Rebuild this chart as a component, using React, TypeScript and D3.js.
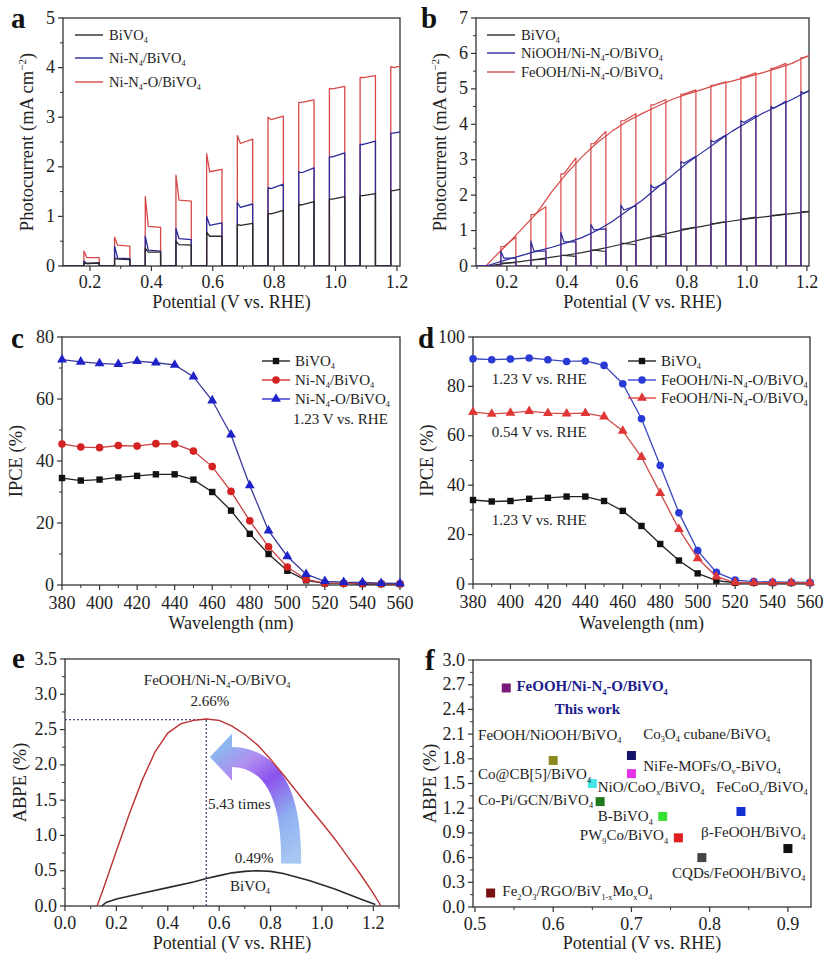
import React from 'react';
import * as d3 from 'd3';

const FONT = "'Liberation Serif','Times New Roman',Times,serif";
const INK = '#222';

// ---------- Panel a : chopped LSV ----------
const aPulseOn = [0.18, 0.28, 0.38, 0.48, 0.58, 0.68, 0.78, 0.88, 0.98, 1.08, 1.18];
const aPulseWidth = 0.05;
const aBiSpike = [0.06, 0.16, 0.36, 0.5, 0.68, 0.84, 1.06, 1.24, 1.35, 1.42, 1.52];
const aBiStart = [0.05, 0.14, 0.28, 0.43, 0.6, 0.82, 1.05, 1.23, 1.35, 1.42, 1.52];
const aBiEnd = [0.06, 0.13, 0.28, 0.42, 0.6, 0.86, 1.12, 1.3, 1.4, 1.46, 1.57];
const aNiSpike = [0.1, 0.4, 0.6, 0.76, 1.0, 1.28, 1.58, 1.9, 2.2, 2.45, 2.68];
const aNiStart = [0.05, 0.16, 0.32, 0.55, 0.82, 1.18, 1.56, 1.88, 2.2, 2.45, 2.68];
const aNiEnd = [0.06, 0.15, 0.3, 0.53, 0.87, 1.25, 1.65, 1.98, 2.28, 2.52, 2.73];
const aNiOSpike = [0.3, 0.58, 1.4, 1.83, 2.26, 2.63, 3.0, 3.3, 3.58, 3.8, 4.02];
const aNiOStart = [0.17, 0.42, 0.8, 1.33, 1.9, 2.47, 2.95, 3.3, 3.57, 3.8, 4.0];
const aNiOEnd = [0.17, 0.4, 0.78, 1.31, 1.95, 2.56, 3.02, 3.35, 3.62, 3.84, 4.06];
const aLegend = ['BiVO_{4}', 'Ni-N_{4}/BiVO_{4}', 'Ni-N_{4}-O/BiVO_{4}'];

// ---------- Panel b : LSV + chopped ----------
const bX = [0.1, 0.13, 0.15, 0.2, 0.25, 0.3, 0.35, 0.4, 0.45, 0.5, 0.55, 0.6, 0.65, 0.7, 0.75, 0.8, 0.85, 0.9, 0.95, 1.0, 1.05, 1.1, 1.15, 1.2, 1.23];
const bBi = [0, 0, 0.02, 0.08, 0.13, 0.19, 0.25, 0.31, 0.38, 0.46, 0.55, 0.65, 0.75, 0.85, 0.95, 1.04, 1.12, 1.2, 1.27, 1.33, 1.38, 1.43, 1.48, 1.53, 1.56];
const bNi = [0, 0, 0.05, 0.18, 0.3, 0.42, 0.53, 0.66, 0.8, 1.0, 1.25, 1.55, 1.85, 2.2, 2.55, 2.9, 3.2, 3.5, 3.8, 4.05, 4.3, 4.5, 4.7, 4.92, 5.02];
const bFe = [0, 0, 0.18, 0.6, 1.05, 1.5, 2.1, 2.62, 3.08, 3.47, 3.8, 4.08, 4.3, 4.5, 4.7, 4.85, 4.98, 5.12, 5.22, 5.33, 5.45, 5.58, 5.72, 5.92, 6.0];
const bPulseOn = [0.18, 0.28, 0.38, 0.48, 0.58, 0.68, 0.78, 0.88, 0.98, 1.08, 1.18];
const bBiStart = [0.08, 0.17, 0.3, 0.45, 0.64, 0.84, 1.04, 1.2, 1.33, 1.43, 1.53];
const bBiEnd = [0.1, 0.2, 0.27, 0.41, 0.6, 0.82, 1.1, 1.25, 1.38, 1.47, 1.56];
const bNiSpike = [0.42, 0.7, 0.95, 1.17, 1.72, 2.28, 2.95, 3.55, 4.1, 4.5, 4.92];
const bNiStart = [0.22, 0.42, 0.68, 1.02, 1.58, 2.2, 2.9, 3.5, 4.05, 4.45, 4.88];
const bNiEnd = [0.22, 0.42, 0.68, 1.05, 1.7, 2.35, 3.1, 3.7, 4.25, 4.65, 5.02];
const bFeStart = [0.55, 1.45, 2.6, 3.45, 4.1, 4.55, 4.85, 5.1, 5.33, 5.58, 5.88];
const bFeEnd = [0.82, 1.67, 3.05, 3.8, 4.3, 4.7, 4.97, 5.2, 5.45, 5.72, 6.0];
const bLegend = ['BiVO_{4}', 'NiOOH/Ni-N_{4}-O/BiVO_{4}', 'FeOOH/Ni-N_{4}-O/BiVO_{4}'];

// ---------- Panel c / d : IPCE ----------
const wl = [380, 390, 400, 410, 420, 430, 440, 450, 460, 470, 480, 490, 500, 510, 520, 530, 540, 550, 560];
const cBi = [34.5, 33.7, 34, 34.7, 35.2, 35.7, 35.7, 34, 30, 24, 16.5, 10, 4.6, 1.5, 0.5, 0.5, 0.3, 0.3, 0.3];
const cNi = [45.5, 44.5, 44.3, 45, 44.8, 45.6, 45.5, 43.2, 38.2, 30.2, 20.7, 12.3, 5.8, 1.8, 0.6, 0.5, 0.5, 0.4, 0.4];
const cNiO = [72.7, 72, 71.5, 71.2, 72.2, 71.7, 71, 67.2, 59.5, 48.5, 32.1, 17.5, 9.2, 3.5, 1.2, 0.9, 0.8, 0.6, 0.5];
const cLegend = ['BiVO_{4}', 'Ni-N_{4}/BiVO_{4}', 'Ni-N_{4}-O/BiVO_{4}'];
const dBi = [34, 33.4, 33.6, 34.5, 34.9, 35.4, 35.4, 33.6, 29.6, 23.5, 16.2, 9.5, 4.3, 1.4, 0.5, 0.5, 0.4, 0.4, 0.4];
const dFe123 = [91.2, 90.8, 91.1, 91.5, 90.8, 90.1, 90.3, 88.5, 81.1, 66.9, 48, 28.8, 13.5, 4.7, 1.6, 1.0, 0.8, 0.7, 0.6];
const dFe054 = [69.6, 68.9, 69.3, 70, 69.2, 69, 69.2, 67.8, 62, 51.4, 36.8, 22.2, 10.4, 3, 0.6, 0.5, 0.5, 0.5, 0.5];
const dLegend = ['BiVO_{4}', 'FeOOH/Ni-N_{4}-O/BiVO_{4}', 'FeOOH/Ni-N_{4}-O/BiVO_{4}'];
const dNotes = ['1.23 V vs. RHE', '0.54 V vs. RHE', '1.23 V vs. RHE'];
const dNoteX = [390, 390, 390];
const dNoteY = [81, 59.5, 24];

// ---------- Panel e : ABPE ----------
const eFeX = [0.125, 0.15, 0.2, 0.25, 0.3, 0.35, 0.4, 0.45, 0.5, 0.55, 0.6, 0.65, 0.7, 0.75, 0.8, 0.85, 0.9, 0.95, 1.0, 1.05, 1.1, 1.15, 1.2, 1.23];
const eFeY = [0, 0.25, 0.78, 1.3, 1.78, 2.18, 2.45, 2.58, 2.63, 2.65, 2.63, 2.55, 2.43, 2.28, 2.08, 1.86, 1.63, 1.4, 1.18, 0.95, 0.7, 0.45, 0.18, 0];
const eBiX = [0.143, 0.16, 0.2, 0.3, 0.4, 0.5, 0.55, 0.6, 0.65, 0.7, 0.75, 0.8, 0.85, 0.9, 0.95, 1.0, 1.05, 1.1, 1.15, 1.208];
const eBiY = [0, 0.05, 0.1, 0.18, 0.26, 0.34, 0.39, 0.43, 0.47, 0.49, 0.5, 0.49, 0.46, 0.41, 0.36, 0.3, 0.24, 0.17, 0.1, 0.02];
const ePeak = [0.55, 2.64];
const eNotes = ['FeOOH/Ni-N_{4}-O/BiVO_{4}', '2.66%', '5.43 times', '0.49%', 'BiVO_{4}'];
const eNoteX = [0.592, 0.564, 0.557, 0.736, 0.72];
const eNoteY = [3.13, 2.83, 1.37, 0.61, 0.21];
const eNoteAnchor = ['middle', 'middle', 'start', 'middle', 'middle'];

// ---------- Panel f : comparison ----------
const fX = [0.54, 0.60, 0.70, 0.70, 0.65, 0.66, 0.74, 0.76, 0.84, 0.90, 0.79, 0.52];
const fY = [2.66, 1.78, 1.84, 1.62, 1.50, 1.28, 1.10, 0.84, 1.16, 0.71, 0.60, 0.17];
const fColor = ['#7a1a7a', '#8a8a22', '#14146e', '#e632e6', '#44e6e6', '#1e7a1e', '#36e036', '#e02020', '#1232d2', '#111111', '#444444', '#7a1212'];
const fLabel = ['FeOOH/Ni-N_{4}-O/BiVO_{4}', 'This work', 'FeOOH/NiOOH/BiVO_{4}', 'Co_{3}O_{4} cubane/BiVO_{4}', 'NiFe-MOFs/O_{v}-BiVO_{4}', 'Co@CB[5]/BiVO_{4}', 'NiO/CoO_{x}/BiVO_{4}', 'FeCoO_{x}/BiVO_{4}', 'Co-Pi/GCN/BiVO_{4}', 'B-BiVO_{4}', 'PW_{9}Co/BiVO_{4}', 'β-FeOOH/BiVO_{4}', 'CQDs/FeOOH/BiVO_{4}', 'Fe_{2}O_{3}/RGO/BiV_{1-x}Mo_{x}O_{4}'];
const fLabelX = [0.553, 0.602, 0.504, 0.715, 0.715, 0.504, 0.657, 0.808, 0.504, 0.657, 0.634, 0.789, 0.752, 0.535];
const fLabelY = [2.62, 2.35, 2.03, 2.04, 1.65, 1.55, 1.40, 1.40, 1.24, 1.04, 0.81, 0.85, 0.35, 0.13];
const fLabelBold = [true, true, false, false, false, false, false, false, false, false, false, false, false, false];

// ---------- helpers ----------
function Rich({ s, fs, sub = 0.55 }: { s: string; fs: number; sub?: number }) {
  const parts: { t: string; k: string }[] = [];
  const re = /([_^])\{([^}]*)\}/g;
  let last = 0;
  let m: RegExpExecArray | null;
  while ((m = re.exec(s))) {
    if (m.index > last) parts.push({ t: s.slice(last, m.index), k: 'n' });
    parts.push({ t: m[2], k: m[1] });
    last = re.lastIndex;
  }
  if (last < s.length) parts.push({ t: s.slice(last), k: 'n' });
  let shift = 0;
  return (
    <>
      {parts.map((p, i) => {
        const target = p.k === '_' ? 0.22 * fs : p.k === '^' ? -0.38 * fs : 0;
        const dy = target - shift;
        shift = target;
        return (
          <tspan key={i} dy={dy === 0 ? undefined : dy} fontSize={p.k === 'n' ? undefined : fs * sub}>
            {p.t}
          </tspan>
        );
      })}
    </>
  );
}

type Sc = d3.ScaleLinear<number, number>;

function chopped(on: number[], w: number, spike: number[], start: number[], end: number[], x0: number, x1: number) {
  const pts: [number, number][] = [[x0, 0]];
  on.forEach((t, i) => {
    pts.push([t, 0], [t, spike[i]], [t + 0.01, start[i]], [t + w, end[i]], [t + w, 0]);
  });
  pts.push([x1, 0]);
  return pts;
}

interface PanelProps {
  id: string;
  L: number; R: number; T: number; B: number;
  xd: [number, number]; yd: [number, number];
  xt: number[]; xm: number[]; yt: number[]; ym: number[];
  xf: (v: number) => string; yf: (v: number) => string;
  xTitle: string; yTitle: string; xTitleY: number; yTitleX: number;
  letter: string; letterX: number; letterY: number;
  clip?: boolean;
  tickDy?: number;
  children: (x: Sc, y: Sc) => React.ReactNode;
}

function Panel(p: PanelProps) {
  const x = d3.scaleLinear().domain(p.xd).range([p.L, p.R]);
  const y = d3.scaleLinear().domain(p.yd).range([p.B, p.T]);
  const inX = (v: number) => v >= p.xd[0] - 1e-9 && v <= p.xd[1] + 1e-9;
  const inY = (v: number) => v >= p.yd[0] - 1e-9 && v <= p.yd[1] + 1e-9;
  const tdy = p.tickDy ?? 22;
  return (
    <g>
      <defs>
        <clipPath id={p.id}>
          <rect x={p.L} y={p.T} width={p.R - p.L} height={p.B - p.T} />
        </clipPath>
      </defs>
      <rect x={p.L} y={p.T} width={p.R - p.L} height={p.B - p.T} fill="none" stroke="#333" strokeWidth={1.3} />
      {p.xt.filter(inX).map((v) => (
        <g key={'xt' + v}>
          <line x1={x(v)} x2={x(v)} y1={p.B} y2={p.B + 5} stroke="#333" strokeWidth={1.2} />
          <text x={x(v)} y={p.B + tdy} textAnchor="middle" fontSize={18} fill={INK}>{p.xf(v)}</text>
        </g>
      ))}
      {p.xm.filter(inX).map((v) => (
        <line key={'xm' + v} x1={x(v)} x2={x(v)} y1={p.B} y2={p.B + 3} stroke="#333" strokeWidth={1} />
      ))}
      {p.yt.filter(inY).map((v) => (
        <g key={'yt' + v}>
          <line x1={p.L - 5} x2={p.L} y1={y(v)} y2={y(v)} stroke="#333" strokeWidth={1.2} />
          <text x={p.L - 8} y={y(v) + 5.5} textAnchor="end" fontSize={18} fill={INK}>{p.yf(v)}</text>
        </g>
      ))}
      {p.ym.filter(inY).map((v) => (
        <line key={'ym' + v} x1={p.L - 3} x2={p.L} y1={y(v)} y2={y(v)} stroke="#333" strokeWidth={1} />
      ))}
      <text x={(p.L + p.R) / 2} y={p.xTitleY} textAnchor="middle" fontSize={18} fill={INK}>
        <Rich s={p.xTitle} fs={18} />
      </text>
      <text transform={`translate(${p.yTitleX},${(p.T + p.B) / 2}) rotate(-90)`} textAnchor="middle" fontSize={18.5} fill={INK}>
        <Rich s={p.yTitle} fs={18.5} sub={0.6} />
      </text>
      <text x={p.letterX} y={p.letterY} fontSize={29} fontWeight="bold" fill="#111">{p.letter}</text>
      <g clipPath={p.clip ? `url(#${p.id})` : undefined}>{p.children(x, y)}</g>
    </g>
  );
}

const range = (a: number, b: number, s: number) => d3.range(Math.round(a / s), Math.round(b / s) + 1).map((k) => +(k * s).toFixed(6));
const minorOf = (a: number, b: number, s: number, major: number[]) =>
  range(a, b, s).filter((v) => !major.some((m) => Math.abs(m - v) < 1e-6));

const f1 = d3.format('.1f');
const f0 = d3.format('d');

const BLK = '#2a2a2a';
const BLU = '#2b2b9c';
const RED = '#d84848';

function Legend({ x, ys, items, colors, fs = 15 }: { x: number; ys: number[]; items: string[]; colors: string[]; fs?: number }) {
  return (
    <g>
      {items.map((t, i) => (
        <g key={i}>
          <line x1={x} x2={x + 28} y1={ys[i]} y2={ys[i]} stroke={colors[i]} strokeWidth={1.4} />
          <text x={x + 34} y={ys[i] + 5} fontSize={fs} fill={INK}>
            <Rich s={t} fs={fs} />
          </text>
        </g>
      ))}
    </g>
  );
}

type Mk = 'square' | 'circle' | 'triangle';
function Marker({ type, cx, cy, color }: { type: Mk; cx: number; cy: number; color: string }) {
  if (type === 'square') return <rect x={cx - 3.2} y={cy - 3.2} width={6.4} height={6.4} fill={color} />;
  if (type === 'circle') return <circle cx={cx} cy={cy} r={3.8} fill={color} />;
  const d = d3.symbol().type(d3.symbolTriangle).size(42)() as string;
  return <path d={d} transform={`translate(${cx},${cy})`} fill={color} />;
}

function MarkerLegend({ x, ys, items, colors, marks }: { x: number; ys: number[]; items: string[]; colors: string[]; marks: Mk[] }) {
  return (
    <g>
      {items.map((t, i) => (
        <g key={i}>
          <line x1={x} x2={x + 28} y1={ys[i]} y2={ys[i]} stroke={colors[i]} strokeWidth={1.3} />
          <Marker type={marks[i]} cx={x + 14} cy={ys[i]} color={colors[i]} />
          <text x={x + 33} y={ys[i] + 5} fontSize={15} fill={INK}>
            <Rich s={t} fs={15} />
          </text>
        </g>
      ))}
    </g>
  );
}

function Series({ x, y, xs, ys, color, lineColor, mark }: { x: Sc; y: Sc; xs: number[]; ys: number[]; color: string; lineColor: string; mark: Mk }) {
  const line = d3.line<number>().x((_, i) => x(xs[i])).y((v) => y(v));
  return (
    <g>
      <path d={line(ys) as string} fill="none" stroke={lineColor} strokeWidth={1.3} />
      {ys.map((v, i) => (
        <Marker key={i} type={mark} cx={x(xs[i])} cy={y(v)} color={color} />
      ))}
    </g>
  );
}

export default function App() {
  const lineXY = (x: Sc, y: Sc) => d3.line<[number, number]>().x((d) => x(d[0])).y((d) => y(d[1]));

  const aXt = range(0.2, 1.2, 0.2);
  const aYt = range(0, 5, 1);
  const bYt = range(0, 7, 1);
  const cXt = range(380, 560, 20);
  const cYt = range(0, 80, 20);
  const dYt = range(0, 100, 20);
  const eXt = range(0, 1.2, 0.2);
  const eYt = range(0, 3.5, 0.5);
  const fXt = range(0.5, 0.9, 0.1);
  const fYt = range(0, 3, 0.3);

  return (
    <svg width={827} height={960} style={{ position: 'absolute', left: 0, top: 0, background: '#fff' }} fontFamily={FONT}>
      <rect x={0} y={0} width={827} height={960} fill="#fff" />

      {/* Panel a */}
      <Panel id="clipA" L={63} R={400} T={18} B={266} xd={[0.112, 1.21]} yd={[0, 5]}
        xt={aXt} xm={minorOf(0.1, 1.2, 0.1, aXt)} yt={aYt} ym={minorOf(0, 5, 0.5, aYt)}
        xf={f1} yf={f0} xTitle="Potential (V vs. RHE)" yTitle="Photocurrent (mA cm^{−2})"
        xTitleY={308} yTitleX={33} letter="a" letterX={11} letterY={28} clip>
        {(x, y) => {
          const L = lineXY(x, y);
          return (
            <g fill="none" strokeWidth={1.3} strokeLinejoin="round">
              <path d={L(chopped(aPulseOn, aPulseWidth, aNiOSpike, aNiOStart, aNiOEnd, 0.1, 1.25)) as string} stroke={RED} />
              <path d={L(chopped(aPulseOn, aPulseWidth, aNiSpike, aNiStart, aNiEnd, 0.1, 1.25)) as string} stroke={BLU} />
              <path d={L(chopped(aPulseOn, aPulseWidth, aBiSpike, aBiStart, aBiEnd, 0.1, 1.25)) as string} stroke={BLK} />
            </g>
          );
        }}
      </Panel>
      <Legend x={75} ys={[35, 58, 82]} items={aLegend} colors={[BLK, BLU, RED]} fs={14.5} />

      {/* Panel b */}
      <Panel id="clipB" L={476} R={809} T={18} B={266} xd={[0.097, 1.207]} yd={[0, 7]}
        xt={aXt} xm={minorOf(0.1, 1.2, 0.1, aXt)} yt={bYt} ym={minorOf(0, 7, 0.5, bYt)}
        xf={f1} yf={f0} xTitle="Potential (V vs. RHE)" yTitle="Photocurrent (mA cm^{−2})"
        xTitleY={308} yTitleX={446} letter="b" letterX={421} letterY={28} clip>
        {(x, y) => {
          const L = lineXY(x, y);
          const env = (vals: number[]) => L(bX.map((v, i) => [v, vals[i]] as [number, number])) as string;
          return (
            <g fill="none" strokeWidth={1.2} strokeLinejoin="round">
              <path d={L(chopped(bPulseOn, 0.05, bBiStart, bBiStart, bBiEnd, 0.1, 1.25)) as string} stroke={BLK} />
              <path d={env(bBi)} stroke={BLK} />
              <path d={L(chopped(bPulseOn, 0.05, bFeStart, bFeStart, bFeEnd, 0.1, 1.25)) as string} stroke={RED} />
              <path d={env(bFe)} stroke={RED} />
              <path d={L(chopped(bPulseOn, 0.05, bNiSpike, bNiStart, bNiEnd, 0.1, 1.25)) as string} stroke={BLU} />
              <path d={env(bNi)} stroke={BLU} />
            </g>
          );
        }}
      </Panel>
      <Legend x={487} ys={[35, 53, 72]} items={bLegend} colors={[BLK, BLU, RED]} fs={14.5} />

      {/* Panel c */}
      <Panel id="clipC" L={62} R={400} T={337} B={585} xd={[380, 560]} yd={[0, 80]}
        xt={cXt} xm={minorOf(380, 560, 10, cXt)} yt={cYt} ym={minorOf(0, 80, 10, cYt)}
        xf={f0} yf={f0} xTitle="Wavelength (nm)" yTitle="IPCE (%)" tickDy={23.5}
        xTitleY={629} yTitleX={22} letter="c" letterX={11} letterY={348}>
        {(x, y) => (
          <g>
            <Series x={x} y={y} xs={wl} ys={cBi} color="#111" lineColor="#222" mark="square" />
            <Series x={x} y={y} xs={wl} ys={cNi} color="#d42222" lineColor="#c84040" mark="circle" />
            <Series x={x} y={y} xs={wl} ys={cNiO} color="#1f22c8" lineColor="#3a3a9a" mark="triangle" />
            <text x={x(503)} y={y(51.9)} fontSize={15} fill={INK}>1.23 V vs. RHE</text>
          </g>
        )}
      </Panel>
      <MarkerLegend x={262} ys={[361, 380, 399]} items={cLegend} colors={['#111', '#d42222', '#1f22c8']} marks={['square', 'circle', 'triangle']} />

      {/* Panel d */}
      <Panel id="clipD" L={473} R={810} T={337} B={584} xd={[380, 560]} yd={[0, 100]}
        xt={cXt} xm={minorOf(380, 560, 10, cXt)} yt={dYt} ym={minorOf(0, 100, 10, dYt)}
        xf={f0} yf={f0} xTitle="Wavelength (nm)" yTitle="IPCE (%)" tickDy={24}
        xTitleY={629} yTitleX={433} letter="d" letterX={418} letterY={348}>
        {(x, y) => (
          <g>
            <Series x={x} y={y} xs={wl} ys={dBi} color="#111" lineColor="#222" mark="square" />
            <Series x={x} y={y} xs={wl} ys={dFe123} color="#2a3ad6" lineColor="#3a48c0" mark="circle" />
            <Series x={x} y={y} xs={wl} ys={dFe054} color="#e03636" lineColor="#d04a4a" mark="triangle" />
            {dNotes.map((t, i) => (
              <text key={i} x={x(dNoteX[i])} y={y(dNoteY[i])} fontSize={15} fill={INK}>{t}</text>
            ))}
          </g>
        )}
      </Panel>
      <MarkerLegend x={628} ys={[361, 380, 398]} items={dLegend} colors={['#111', '#2a3ad6', '#e03636']} marks={['square', 'circle', 'triangle']} />

      {/* Panel e */}
      <Panel id="clipE" L={65} R={399} T={659} B={906} xd={[0, 1.3]} yd={[0, 3.5]}
        xt={eXt} xm={minorOf(0, 1.3, 0.1, eXt)} yt={eYt} ym={minorOf(0, 3.5, 0.25, eYt)}
        xf={f1} yf={f1} xTitle="Potential (V vs. RHE)" yTitle="ABPE (%)" tickDy={23}
        xTitleY={949} yTitleX={26} letter="e" letterX={12} letterY={668}>
        {(x, y) => {
          const lineFe = d3.line<number>().x((_, i) => x(eFeX[i])).y((v) => y(v));
          const lineBi = d3.line<number>().x((_, i) => x(eBiX[i])).y((v) => y(v));
          const tip = [x(0.564), y(2.11)];
          const c1 = [x(0.65), y(2.44)];
          const c2 = [x(0.65), y(1.78)];
          const base = [x(0.646), y(2.11)];
          const ctrl = [x(0.885), y(2.1)];
          const tail = [x(0.88), y(0.6)];
          return (
            <g>
              <defs>
                <linearGradient id="arrowGrad" gradientUnits="userSpaceOnUse" x1={tail[0]} y1={tail[1]} x2={tip[0]} y2={tip[1]}>
                  <stop offset="0" stopColor="#a9c8f4" />
                  <stop offset="0.3" stopColor="#8fb0f0" />
                  <stop offset="0.6" stopColor="#8c52ec" />
                  <stop offset="0.8" stopColor="#b08ef0" />
                  <stop offset="1" stopColor="#8db6ee" />
                </linearGradient>
              </defs>
              <path d={`M${base[0]},${base[1]} Q${ctrl[0]},${ctrl[1]} ${tail[0]},${tail[1]}`} fill="none" stroke="url(#arrowGrad)" strokeWidth={20} />
              <path d={`M${tip[0]},${tip[1]} L${c1[0]},${c1[1]} L${c2[0]},${c2[1]} Z`} fill="url(#arrowGrad)" />
              <line x1={x(0)} x2={x(ePeak[0])} y1={y(ePeak[1])} y2={y(ePeak[1])} stroke="#4a4a80" strokeWidth={1.3} strokeDasharray="2 2" />
              <line x1={x(ePeak[0])} x2={x(ePeak[0])} y1={y(0)} y2={y(ePeak[1])} stroke="#4a4a80" strokeWidth={1.3} strokeDasharray="2 2" />
              <path d={lineFe(eFeY) as string} fill="none" stroke="#d63c3c" strokeWidth={1.4} />
              <path d={lineFe(eFeY) as string} fill="none" stroke="#5a2020" strokeWidth={0.5} opacity={0.6} />
              <path d={lineBi(eBiY) as string} fill="none" stroke="#2a2a2a" strokeWidth={1.6} />
              {eNotes.map((t, i) => (
                <text key={i} x={x(eNoteX[i])} y={y(eNoteY[i])} fontSize={15} fill={INK} textAnchor={eNoteAnchor[i] as any}>
                  <Rich s={t} fs={15} />
                </text>
              ))}
            </g>
          );
        }}
      </Panel>

      {/* Panel f */}
      <Panel id="clipF" L={473} R={811} T={660} B={907} xd={[0.4975, 0.9295]} yd={[0, 3]}
        xt={fXt} xm={minorOf(0.5, 0.95, 0.05, fXt)} yt={fYt} ym={minorOf(0, 3, 0.15, fYt)}
        xf={f1} yf={f1} xTitle="Potential (V vs. RHE)" yTitle="ABPE (%)" tickDy={23}
        xTitleY={949} yTitleX={436} letter="f" letterX={425} letterY={670}>
        {(x, y) => (
          <g>
            {fX.map((v, i) => (
              <rect key={i} x={x(v) - 4.5} y={y(fY[i]) - 4.5} width={9} height={9} fill={fColor[i]} />
            ))}
            {fLabel.map((t, i) => (
              <text key={'l' + i} x={x(fLabelX[i])} y={y(fLabelY[i])} fontSize={15}
                fontWeight={fLabelBold[i] ? 'bold' : 'normal'} fill={fLabelBold[i] ? '#1c1c8e' : INK}>
                <Rich s={t} fs={15} />
              </text>
            ))}
          </g>
        )}
      </Panel>
    </svg>
  );
}
